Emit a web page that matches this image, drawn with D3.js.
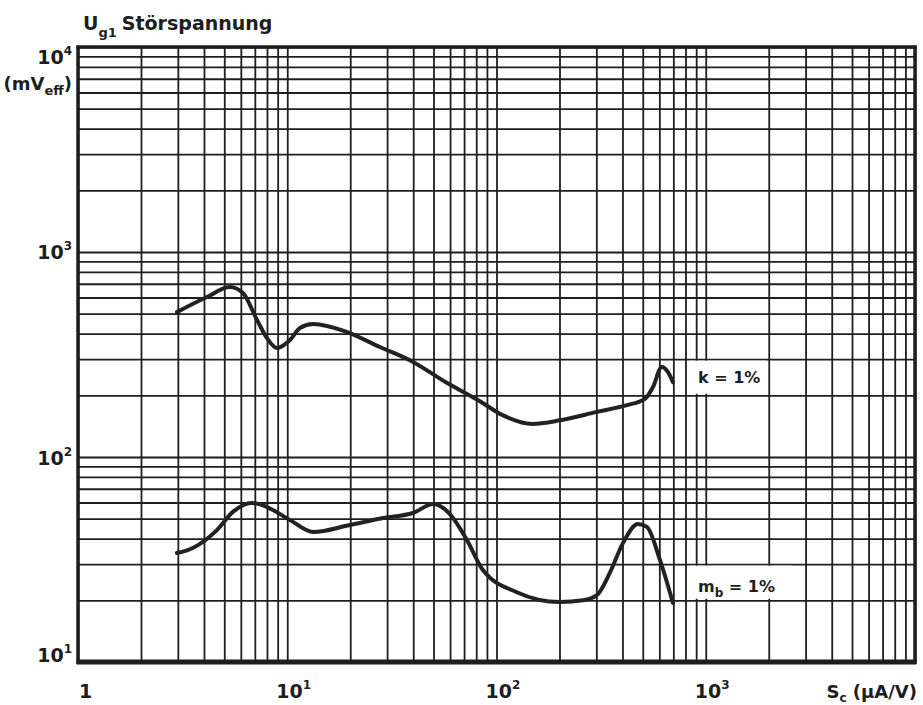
<!DOCTYPE html>
<html>
<head>
<meta charset="utf-8">
<script src="https://cdn.jsdelivr.net/npm/d3@7"></script>
<style>
  html, body { margin: 0; padding: 0; background: #ffffff; }
  svg { display: block; }
  text { font-family: "DejaVu Sans", "Liberation Sans", sans-serif; font-weight: bold; fill: #1e1e1e; }
</style>
</head>
<body>
<svg id="chart" width="923" height="705"></svg>
<script>
// ---------- data ----------
// Curve k = 1 %  (S_c in µA/V, U_g1 in mV_eff)
const kSc  = [2.97, 4.13, 5.32, 6.14, 7.17, 8.0, 8.93, 10.3, 11.5, 13.3, 19.3, 27.7, 39.9, 57.9, 83.3, 107, 148, 201, 302, 420, 512, 559, 617, 659, 697];
const kUg  = [509, 603, 675, 631, 466, 380, 340, 372, 426, 445, 407, 344, 291, 230, 187, 160, 145, 151, 166, 179, 192, 219, 275, 260, 232];
// Curve m_b = 1 %
const mSc  = [2.97, 3.54, 4.61, 5.5, 6.78, 8.0, 10.3, 13.3, 19.9, 28.7, 39.9, 49.7, 59.9, 72.2, 86.1, 125, 201, 259, 302, 348, 402, 474, 523, 604, 697];
const mUg  = [34.0, 36.0, 44.0, 54.0, 59.7, 57.0, 49.3, 43.1, 46.6, 50.4, 53.3, 59.0, 52.7, 39.4, 28.1, 21.9, 19.6, 20.0, 21.2, 27.2, 38.0, 47.1, 45.6, 31.5, 19.4];

const xTickValues = [1, 10, 100, 1000];
const xTickExps   = ["", "1", "2", "3"];
const yTickValues = [10, 100, 1000, 10000];
const yTickExps   = ["1", "2", "3", "4"];
const xDomain = [1, 10000];
const yDomain = [10, 10000];

// ---------- layout ----------
const svg = d3.select("#chart");
const L = 78, R = 915, T = 47, B = 662;
const x = d3.scaleLog().domain(xDomain).range([L, R]);
const y = d3.scaleLog().domain(yDomain).range([B, T]);
const ink = "#1e1e1e";

// grid values: 1..9 per decade
function gridVals(lo, hi) {
  const v = [];
  for (let d = lo; d < hi; d *= 10) for (let m = 1; m <= 9; m++) v.push(d * m);
  v.push(hi);
  return v;
}
const gx = gridVals(xDomain[0], xDomain[1]);
const gy = gridVals(yDomain[0], yDomain[1]);

const gridX = svg.append("g").attr("transform", `translate(0,${B})`)
  .call(d3.axisBottom(x).tickValues(gx).tickSize(-(B - T)).tickFormat(""));
const gridY = svg.append("g").attr("transform", `translate(${L},0)`)
  .call(d3.axisLeft(y).tickValues(gy).tickSize(-(R - L)).tickFormat(""));
[gridX, gridY].forEach(g => {
  g.select(".domain").remove();
  g.selectAll(".tick line").attr("stroke", ink).attr("stroke-width", 1.8);
});

// label boxes (white backgrounds interrupting the grid)
svg.append("rect").attr("x", x(830)).attr("y", y(300) + 1.5)
  .attr("width", x(1950) - x(830)).attr("height", y(200) - y(300) - 3).attr("fill", "#fff");
svg.append("rect").attr("x", x(830)).attr("y", y(30) + 1.5)
  .attr("width", x(2600) - x(830)).attr("height", y(20) - y(30) - 3).attr("fill", "#fff");

// frame
svg.append("line").attr("x1", L).attr("x2", L).attr("y1", T - 1.5).attr("y2", B + 2).attr("stroke", ink).attr("stroke-width", 3.5);
svg.append("line").attr("x1", R).attr("x2", R).attr("y1", T - 1.5).attr("y2", B + 2).attr("stroke", ink).attr("stroke-width", 3.5);
svg.append("line").attr("x1", L - 1.5).attr("x2", R + 1.5).attr("y1", T).attr("y2", T).attr("stroke", ink).attr("stroke-width", 3.5);
svg.append("line").attr("x1", L - 1.5).attr("x2", R + 1.5).attr("y1", B).attr("y2", B).attr("stroke", ink).attr("stroke-width", 5);

// curves
const line = d3.line().x(d => x(d[0])).y(d => y(d[1])).curve(d3.curveMonotoneX);
svg.append("path").datum(kSc.map((v, i) => [v, kUg[i]])).attr("d", line)
  .attr("fill", "none").attr("stroke", "#222").attr("stroke-width", 4).attr("stroke-linecap", "round").attr("stroke-linejoin", "round");
svg.append("path").datum(mSc.map((v, i) => [v, mUg[i]])).attr("d", line)
  .attr("fill", "none").attr("stroke", "#222").attr("stroke-width", 4).attr("stroke-linecap", "round").attr("stroke-linejoin", "round");

// curve labels
const kl = svg.append("text").attr("x", 698).attr("y", y(200) - 12).attr("font-size", 16);
kl.text("k = 1%");
const ml = svg.append("text").attr("x", 698).attr("y", y(20) - 8).attr("font-size", 16);
ml.append("tspan").text("m");
ml.append("tspan").attr("dy", 5).attr("font-size", 12).text("b");
ml.append("tspan").attr("dy", -5).text(" = 1%");

// title
const title = svg.append("text").attr("x", 83).attr("y", 30).attr("font-size", 19);
title.append("tspan").text("U");
title.append("tspan").attr("dy", 7).attr("font-size", 13).text("g1");
title.append("tspan").attr("dy", -7).attr("dx", 5).text("Störspannung");

// y tick labels
const yOff = [0, 8, 7, 17];
yTickValues.forEach((v, i) => {
  const t = svg.append("text").attr("x", 72).attr("y", y(v) + yOff[i]).attr("font-size", 19).attr("text-anchor", "end");
  t.append("tspan").text("10");
  t.append("tspan").attr("dy", -9).attr("font-size", 12).text(yTickExps[i]);
});
// y unit
const yu = svg.append("text").attr("x", 72).attr("y", 90).attr("font-size", 18).attr("text-anchor", "end");
yu.append("tspan").text("(mV");
yu.append("tspan").attr("dy", 5).attr("font-size", 13).text("eff");
yu.append("tspan").attr("dy", -5).text(")");

// x tick labels
xTickValues.forEach((v, i) => {
  if (i === 0) {
    svg.append("text").attr("x", x(v) + 1).attr("y", 698).attr("font-size", 19).text("1");
  } else {
    const t = svg.append("text").attr("x", x(v) - 11).attr("y", 698).attr("font-size", 19);
    t.append("tspan").text("10");
    t.append("tspan").attr("dy", -9).attr("font-size", 12).text(xTickExps[i]);
  }
});
// x unit
const xu = svg.append("text").attr("x", 917).attr("y", 698).attr("font-size", 18).attr("text-anchor", "end");
xu.append("tspan").text("S");
xu.append("tspan").attr("dy", 4).attr("font-size", 12).text("c");
xu.append("tspan").attr("dy", -4).text(" (µA/V)");
</script>
</body>
</html>
